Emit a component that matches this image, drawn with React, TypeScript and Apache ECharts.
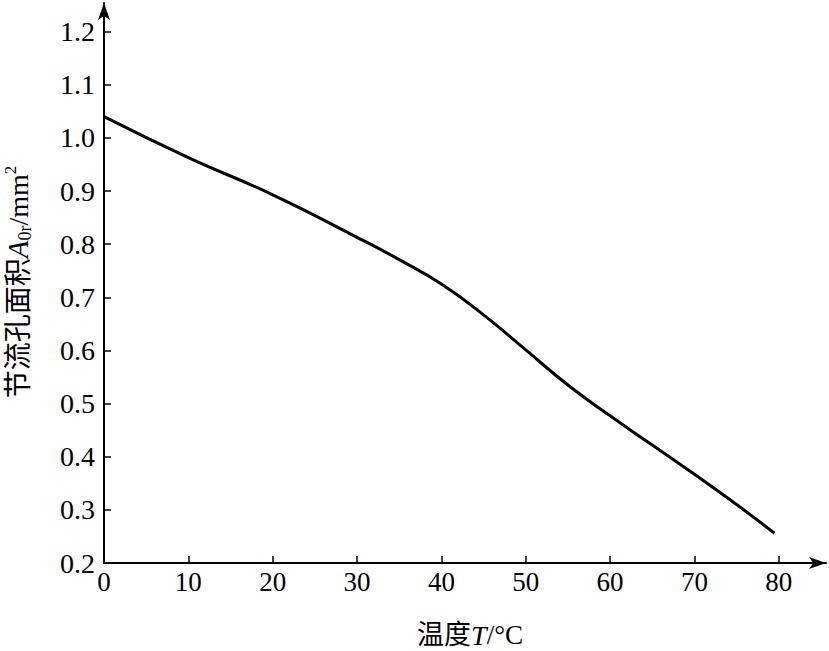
import React, { useEffect, useRef } from "react";
import * as echarts from "echarts";

const temperature = [0, 10, 20, 30, 35, 40, 45, 50, 55, 60, 65, 70, 75, 79.5];
const area = [1.04, 0.963, 0.893, 0.813, 0.771, 0.725, 0.667, 0.601, 0.535, 0.477, 0.422, 0.367, 0.31, 0.256];
const xTicks = [0, 10, 20, 30, 40, 50, 60, 70, 80];
const yTicks = [0.2, 0.3, 0.4, 0.5, 0.6, 0.7, 0.8, 0.9, 1.0, 1.1, 1.2];

const FONT = "'Liberation Serif', 'Noto Sans CJK SC', serif";

export default function App() {
  const ref = useRef<HTMLDivElement>(null);
  useEffect(() => {
    if (!ref.current) return;
    const chart = echarts.init(ref.current, undefined, { renderer: "svg" });
    chart.setOption({
      animation: false,
      backgroundColor: "#ffffff",
      grid: { left: 104, right: 3, top: 3, bottom: 88, containLabel: false, outerBoundsMode: "none" },
      xAxis: {
        type: "value",
        min: 0,
        max: 85.6,
        name: "温度{i|T}/°C",
        nameLocation: "middle",
        nameGap: 58,
        nameTextStyle: {
          color: "#000",
          fontFamily: FONT,
          fontSize: 27,
          padding: [0, 0, 0, 10],
          rich: { i: { fontStyle: "italic", fontFamily: FONT, fontSize: 28, color: "#000" } },
        },
        axisLine: {
          show: true,
          lineStyle: { color: "#000", width: 2 },
          symbol: ["none", "arrow"],
          symbolSize: [9, 17],
        },
        axisTick: { show: true, inside: true, length: 7, lineStyle: { color: "#000", width: 1.5 }, customValues: xTicks },
        axisLabel: {
          color: "#000",
          fontFamily: FONT,
          fontSize: 27,
          margin: 5,
          customValues: xTicks,
          formatter: (v: number) => String(v),
        },
        splitLine: { show: false },
      },
      yAxis: {
        type: "value",
        min: 0.2,
        max: 1.254,
        name: "节流孔面积{i|A}{sub|0r}/mm{sup|2}",
        nameLocation: "middle",
        nameRotate: 90,
        nameGap: 70,
        nameTextStyle: {
          color: "#000",
          fontFamily: FONT,
          fontSize: 28,
          padding: [0, 0, 0, 2],
          rich: {
            i: { fontStyle: "italic", fontFamily: FONT, fontSize: 29, color: "#000" },
            sub: { fontFamily: FONT, fontSize: 18, color: "#000", verticalAlign: "bottom", padding: [14, 0, 0, 0] },
            sup: { fontFamily: FONT, fontSize: 17, color: "#000", verticalAlign: "top", padding: [0, 0, 14, 0] },
          },
        },
        axisLine: {
          show: true,
          lineStyle: { color: "#000", width: 2 },
          symbol: ["none", "arrow"],
          symbolSize: [9, 17],
        },
        axisTick: { show: true, inside: true, length: 7, lineStyle: { color: "#000", width: 1.5 }, customValues: yTicks },
        axisLabel: {
          color: "#000",
          fontFamily: FONT,
          fontSize: 28,
          margin: 9,
          customValues: yTicks,
          formatter: (v: number) => v.toFixed(1),
        },
        splitLine: { show: false },
      },
      series: [
        {
          type: "line",
          data: temperature.map((t, i) => [t, area[i]]),
          smooth: 0.5,
          showSymbol: false,
          lineStyle: { color: "#000", width: 3 },
        },
      ],
    });
    return () => chart.dispose();
  }, []);
  return (
    <div
      ref={ref}
      style={{ position: "fixed", left: 0, top: 0, width: 829, height: 651, background: "#fff" }}
    />
  );
}
